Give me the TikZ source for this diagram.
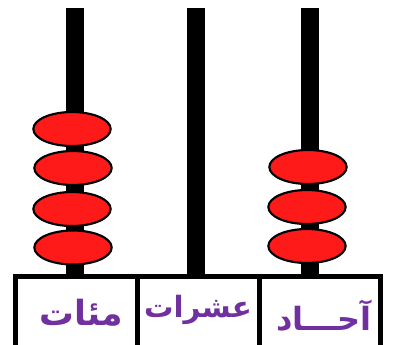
\documentclass[tikz,border=0pt]{standalone}
\usepackage{fontspec}
\newfontfamily\arabicfont[Script=Arabic]{DejaVu Sans}
\TeXXeTstate=1
\usetikzlibrary{shapes.geometric}

\definecolor{beadred}{RGB}{255,26,26}
\definecolor{labelpurple}{RGB}{112,48,160}

\tikzset{every picture/.style={line width=0.75pt}}
\tikzset{
  rod/.style={line width=13.5pt},
  bead/.style={ellipse,draw=black,fill=beadred,line width=1.6pt,minimum width=58pt,minimum height=25.5pt,inner sep=0pt},
  frame/.style={line width=3.75pt},
  digit/.style={inner sep=0.75pt,text=labelpurple,font=\arabicfont\bfseries\fontsize{26}{30}\selectfont}
}

\begin{document}
\begin{tikzpicture}[x=0.75pt,y=0.75pt,yscale=-1,xscale=1]
\useasboundingbox (0,0) rectangle (393,344);

% Rods
\draw[rod] (75,8) -- (75,276);
\draw[rod] (196,8) -- (196,276);
\draw[rod] (310,8) -- (310,276);

% Beads on the hundreds rod
\node[bead] (h1) at (72,129) {};
\node[bead] (h2) at (73,168) {};
\node[bead] (h3) at (72,209) {};
\node[bead] (h4) at (73,247.5) {};

% Beads on the units rod
\node[bead] (u1) at (308,167) {};
\node[bead] (u2) at (307,207) {};
\node[bead] (u3) at (307,246) {};

% Frame
\draw[frame] (15.5,350) -- (15.5,276) -- (380.5,276) -- (380.5,350);
\draw[frame] (137.5,276) -- (137.5,350);
\draw[frame] (259.5,276) -- (259.5,350);

% Text Node
\node[digit] (hundreds) at (81,313) {\beginR مئات\endR};
% Text Node
\node[digit,font=\arabicfont\bfseries\fontsize{22}{26}\selectfont] (tens) at (198,310) {\beginR عشرات\endR};
% Text Node
\node[digit,font=\arabicfont\bfseries\fontsize{24}{28}\selectfont] (units) at (324,316) {\beginR آحـــاد\endR};

\end{tikzpicture}
\end{document}
